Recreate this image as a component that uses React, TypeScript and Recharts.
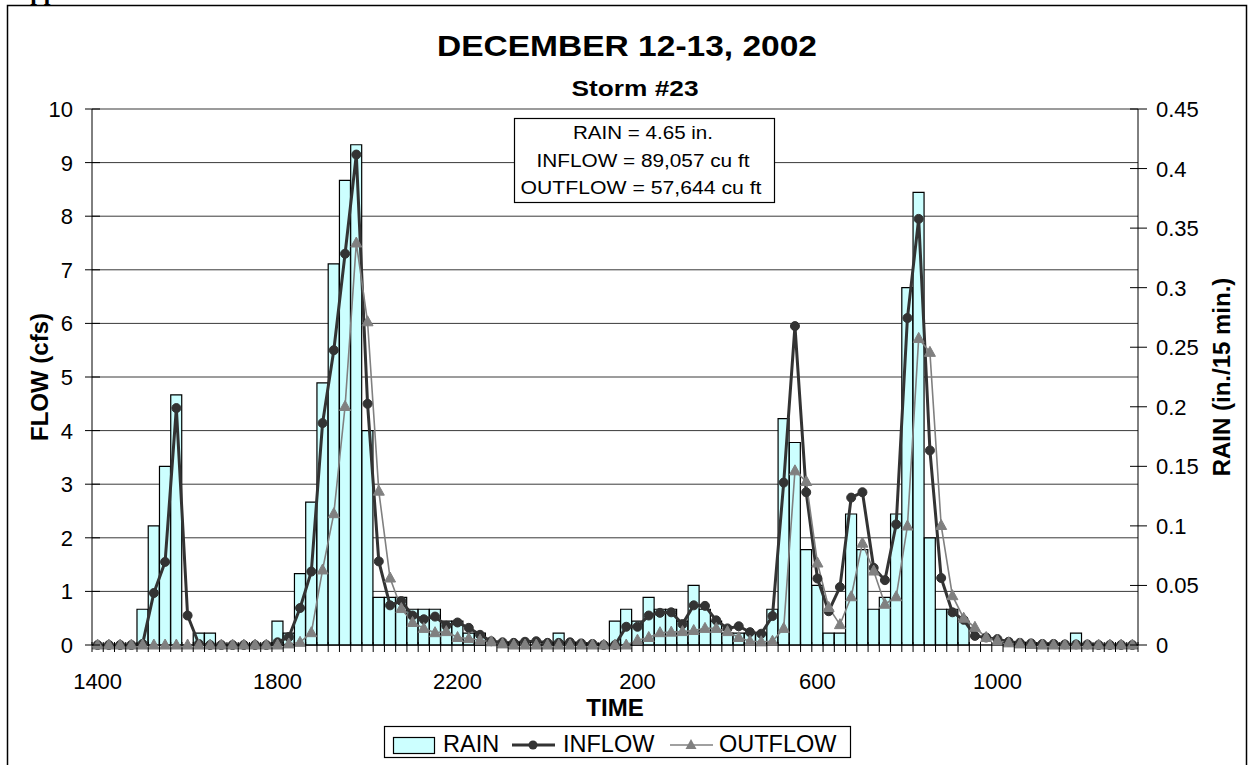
import React from "react";
import { ComposedChart, Bar, Line, XAxis, YAxis, CartesianGrid, Label, ReferenceLine } from "recharts";

const FONT = "'Liberation Sans', Arial, Helvetica, sans-serif";

// 15-minute readings, 1400 on Dec 12 through 1300 on Dec 13
const times = [
  1400, 1415, 1430, 1445, 1500, 1515, 1530, 1545, 1600, 1615, 1630, 1645,
  1700, 1715, 1730, 1745, 1800, 1815, 1830, 1845, 1900, 1915, 1930, 1945,
  2000, 2015, 2030, 2045, 2100, 2115, 2130, 2145, 2200, 2215, 2230, 2245,
  2300, 2315, 2330, 2345, 0, 15, 30, 45, 100, 115, 130, 145,
  200, 215, 230, 245, 300, 315, 330, 345, 400, 415, 430, 445,
  500, 515, 530, 545, 600, 615, 630, 645, 700, 715, 730, 745,
  800, 815, 830, 845, 900, 915, 930, 945, 1000, 1015, 1030, 1045,
  1100, 1115, 1130, 1145, 1200, 1215, 1230, 1245, 1300,
];

// in./15 min.
const rain = [
  0, 0, 0, 0, 0.03, 0.1, 0.15, 0.21, 0, 0.01, 0.01, 0,
  0, 0, 0, 0, 0.02, 0.01, 0.06, 0.12, 0.22, 0.32, 0.39, 0.42,
  0.18, 0.04, 0.04, 0.04, 0.03, 0.03, 0.03, 0.02, 0.02, 0.01, 0.01, 0,
  0, 0, 0, 0, 0, 0.01, 0, 0, 0, 0, 0.02, 0.03,
  0.02, 0.04, 0.03, 0.03, 0.02, 0.05, 0.03, 0.02, 0.01, 0.01, 0.01, 0.01,
  0.03, 0.19, 0.17, 0.08, 0.05, 0.01, 0.01, 0.11, 0.08, 0.03, 0.04, 0.11,
  0.3, 0.38, 0.09, 0.03, 0.03, 0.02, 0, 0, 0, 0, 0, 0,
  0, 0, 0, 0.01, 0, 0, 0, 0, 0,
];

// cfs
const inflow = [
  0, 0, 0, 0, 0.02, 0.97, 1.55, 4.42, 0.55, 0.02, 0, 0,
  0, 0, 0, 0, 0.05, 0.15, 0.69, 1.37, 4.14, 5.5, 7.3, 9.15,
  4.5, 1.56, 0.74, 0.82, 0.55, 0.48, 0.53, 0.36, 0.42, 0.32, 0.19, 0.07,
  0.05, 0.04, 0.06, 0.07, 0.04, 0.04, 0.05, 0.03, 0.02, 0, 0, 0.34,
  0.34, 0.55, 0.6, 0.61, 0.39, 0.74, 0.73, 0.46, 0.31, 0.35, 0.24, 0.21,
  0.54, 3.03, 5.95, 2.85, 1.24, 0.63, 1.08, 2.75, 2.85, 1.44, 1.21, 2.25,
  6.1, 7.95, 3.63, 1.25, 0.61, 0.47, 0.17, 0.14, 0.11, 0.06, 0.04, 0.03,
  0.02, 0.02, 0.01, 0.01, 0.01, 0, 0, 0, 0,
];

// cfs
const outflow = [
  0, 0, 0, 0, 0, 0, 0, 0, 0, 0, 0, 0,
  0, 0, 0, 0, 0, 0.02, 0.05, 0.23, 1.4, 2.45, 4.45, 7.5,
  6.03, 2.87, 1.25, 0.68, 0.42, 0.31, 0.23, 0.25, 0.14, 0.12, 0.09, 0.06,
  0.02, 0, 0, 0, 0, 0, 0, 0, 0, 0, 0, 0,
  0.09, 0.14, 0.23, 0.24, 0.25, 0.27, 0.31, 0.31, 0.25, 0.14, 0.07, 0.06,
  0.07, 0.31, 3.25, 3.05, 1.53, 0.7, 0.38, 0.9, 1.9, 1.38, 0.76, 0.9,
  2.22, 5.72, 5.46, 2.23, 0.92, 0.5, 0.33, 0.14, 0.08, 0.04, 0.02, 0.01,
  0, 0, 0, 0, 0, 0, 0, 0, 0,
];

const flowTicks = [0, 1, 2, 3, 4, 5, 6, 7, 8, 9, 10];
const rainTicks = [0, 0.05, 0.1, 0.15, 0.2, 0.25, 0.3, 0.35, 0.4, 0.45];
const labelEvery = 16;

const title = "DECEMBER 12-13, 2002";
const subtitle = "Storm #23";
const totals = ["RAIN = 4.65 in.", "INFLOW = 89,057 cu ft", "OUTFLOW = 57,644 cu ft"];

const W = 1250;
const H = 765;
const PLOT_LEFT = 92;
const PLOT_RIGHT = 1138;
const PLOT_TOP = 109;
const PLOT_BOTTOM = 645;
const BAND = (PLOT_RIGHT - PLOT_LEFT) / times.length;

const data = times.map((t, i) => ({ time: t, rain: rain[i], inflow: inflow[i], outflow: outflow[i] }));

function TimeTick(props: any) {
  const { x, y, payload, index } = props;
  const left = x - BAND / 2;
  return (
    <g>
      <line x1={left} x2={left} y1={y - 3} y2={y + 7} stroke="#000" />
      {index === times.length - 1 && (
        <line x1={left + BAND} x2={left + BAND} y1={y - 3} y2={y + 7} stroke="#000" />
      )}
      {index % labelEvery === 0 && (
        <text x={x} y={y + 44} textAnchor="middle" fontSize={22} fontFamily={FONT} fill="#000">
          {payload.value}
        </text>
      )}
    </g>
  );
}

function FlowTick(props: any) {
  const { x, y, payload } = props;
  return (
    <g>
      <line x1={x - 7} x2={x + 8} y1={y} y2={y} stroke="#000" />
      <text x={x - 19} y={y + 8} textAnchor="end" fontSize={22} fontFamily={FONT} fill="#000">
        {payload.value}
      </text>
    </g>
  );
}

function RainTick(props: any) {
  const { x, y, payload } = props;
  return (
    <g>
      <line x1={x - 8} x2={x + 9} y1={y} y2={y} stroke="#000" />
      <text x={x + 18} y={y + 8} textAnchor="start" fontSize={22} fontFamily={FONT} fill="#000">
        {payload.value}
      </text>
    </g>
  );
}

function Triangle(props: any) {
  const { cx, cy, index } = props;
  if (cx == null || cy == null) return <g key={`t-${index}`} />;
  return (
    <path
      key={`t-${index}`}
      d={`M${cx},${cy - 6} L${cx + 5.5},${cy + 4} L${cx - 5.5},${cy + 4} Z`}
      fill="#808080"
      stroke="#808080"
    />
  );
}

const boldText = { fontFamily: FONT, fontWeight: 700, fontSize: 24, fill: "#000" };

function TimeTitle(props: any) {
  const { viewBox } = props;
  return (
    <text x={viewBox.x + viewBox.width / 2} y={viewBox.y + 71} textAnchor="middle" {...boldText}>
      TIME
    </text>
  );
}

function FlowTitle(props: any) {
  const { viewBox } = props;
  const cx = viewBox.x + 16;
  const cy = viewBox.y + viewBox.height / 2;
  return (
    <text x={cx} y={cy} transform={`rotate(-90 ${cx} ${cy})`} textAnchor="middle" {...boldText}>
      FLOW (cfs)
    </text>
  );
}

function RainTitle(props: any) {
  const { viewBox } = props;
  const cx = viewBox.x + 92;
  const cy = viewBox.y + viewBox.height / 2;
  return (
    <text x={cx} y={cy} transform={`rotate(-90 ${cx} ${cy})`} textAnchor="middle" {...boldText}>
      RAIN (in./15 min.)
    </text>
  );
}

export default function App() {
  return (
    <div style={{ position: "absolute", left: 0, top: 0, width: W, height: H, overflow: "hidden", background: "#fff" }}>
      <ComposedChart
        width={W}
        height={H}
        data={data}
        margin={{ top: PLOT_TOP, right: W - PLOT_RIGHT - 100, bottom: H - PLOT_BOTTOM - 80, left: PLOT_LEFT - 60 }}
        barCategoryGap={0}
        barGap={0}
      >
        <CartesianGrid yAxisId="flow" vertical={false} stroke="#3a3a3a" />
        <ReferenceLine yAxisId="flow" y={10} stroke="#999" />
        <XAxis
          dataKey="time"
          height={80}
          interval={0}
          tickLine={false}
          tickSize={0}
          tickMargin={0}
          axisLine={{ stroke: "#000" }}
          tick={<TimeTick />}
        >
          <Label content={<TimeTitle />} />
        </XAxis>
        <YAxis
          yAxisId="flow"
          width={60}
          domain={[0, 10]}
          ticks={flowTicks}
          interval={0}
          tickLine={false}
          tickSize={0}
          tickMargin={0}
          axisLine={{ stroke: "#000" }}
          tick={<FlowTick />}
        >
          <Label content={<FlowTitle />} />
        </YAxis>
        <YAxis
          yAxisId="rain"
          orientation="right"
          width={100}
          domain={[0, 0.45]}
          ticks={rainTicks}
          interval={0}
          tickLine={false}
          tickSize={0}
          tickMargin={0}
          axisLine={{ stroke: "#000" }}
          tick={<RainTick />}
        >
          <Label content={<RainTitle />} />
        </YAxis>
        <Bar
          yAxisId="rain"
          dataKey="rain"
          fill="#CCFFFF"
          stroke="#000"
          strokeWidth={1.2}
          isAnimationActive={false}
        />
        <Line
          yAxisId="flow"
          dataKey="inflow"
          type="linear"
          stroke="#333333"
          strokeWidth={3}
          dot={{ r: 4.5, fill: "#333333", stroke: "#333333", strokeWidth: 1 }}
          activeDot={false}
          isAnimationActive={false}
        />
        <Line
          yAxisId="flow"
          dataKey="outflow"
          type="linear"
          stroke="#808080"
          strokeWidth={1.6}
          dot={(p: any) => <Triangle {...p} key={`t-${p.index}`} />}
          activeDot={false}
          isAnimationActive={false}
        />
      </ComposedChart>

      <svg
        width={W}
        height={H}
        style={{ position: "absolute", left: 0, top: 0, pointerEvents: "none" }}
        fontFamily={FONT}
      >
        <text x={13} y={0} fontFamily="'Liberation Serif', 'Times New Roman', serif" fontWeight={700} fontSize={24}>
          Appendix
        </text>
        <rect x={7.5} y={5.5} width={1239} height={800} fill="none" stroke="#000" strokeWidth={1.5} />

        <text x={627} y={56} textAnchor="middle" fontWeight={700} fontSize={30} textLength={380} lengthAdjust="spacingAndGlyphs">
          {title}
        </text>
        <text x={635} y={96} textAnchor="middle" fontWeight={700} fontSize={22.5} textLength={127} lengthAdjust="spacingAndGlyphs">
          {subtitle}
        </text>

        <rect x={514.5} y={118.5} width={260} height={84} fill="#fff" stroke="#000" strokeWidth={1.2} />
        <text x={643} y={139} textAnchor="middle" fontSize={18} textLength={140} lengthAdjust="spacingAndGlyphs">
          {totals[0]}
        </text>
        <text x={643} y={167} textAnchor="middle" fontSize={18} textLength={213} lengthAdjust="spacingAndGlyphs">
          {totals[1]}
        </text>
        <text x={641} y={194} textAnchor="middle" fontSize={18} textLength={241} lengthAdjust="spacingAndGlyphs">
          {totals[2]}
        </text>

        <rect x={384.5} y={726.5} width={466} height={31} fill="#fff" stroke="#000" strokeWidth={1.2} />
        <rect x={393.5} y={737.5} width={41} height={16} fill="#CCFFFF" stroke="#000" strokeWidth={1.2} />
        <text x={443} y={752} fontSize={23.5}>RAIN</text>
        <line x1={512} x2={555} y1={745} y2={745} stroke="#333333" strokeWidth={3} />
        <circle cx={533} cy={745} r={4.5} fill="#333333" />
        <text x={563} y={752} fontSize={23.5}>INFLOW</text>
        <line x1={670} x2={713} y1={745} y2={745} stroke="#808080" strokeWidth={1.6} />
        <path d="M691,739 L696.5,749 L685.5,749 Z" fill="#808080" />
        <text x={719} y={752} fontSize={23.5}>OUTFLOW</text>
      </svg>
    </div>
  );
}
